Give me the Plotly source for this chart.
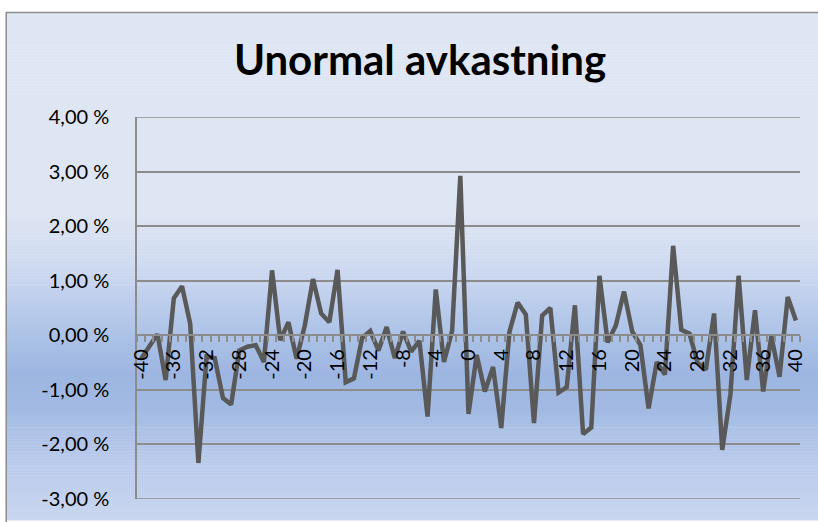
import plotly.graph_objects as go

# ---- data (values in percent) ----
days = list(range(-40, 41))
abnormal_return = [
    -0.43, -0.22, 0.02, -0.82, 0.68, 0.90, 0.21, -2.34, -0.39, -0.42,
    -1.15, -1.27, -0.28, -0.21, -0.18, -0.49, 1.19, -0.09, 0.24, -0.43,
    0.18, 1.03, 0.40, 0.24, 1.20, -0.86, -0.79, -0.05, 0.08, -0.28,
    0.15, -0.42, 0.07, -0.30, -0.10, -1.49, 0.84, -0.49, 0.08, 2.92,
    -1.44, -0.36, -1.03, -0.58, -1.70, 0.06, 0.60, 0.38, -1.61, 0.36,
    0.50, -1.05, -0.95, 0.55, -1.81, -1.69, 1.09, -0.13, 0.18, 0.80,
    0.07, -0.18, -1.34, -0.49, -0.72, 1.64, 0.10, 0.03, -0.51, -0.63,
    0.40, -2.10, -1.08, 1.09, -0.82, 0.46, -1.03, -0.02, -0.76, 0.70,
    0.27,
]
x_tickvals = list(range(-40, 41, 4))
x_ticktext = [str(v) for v in x_tickvals]
y_tickvals = [-3, -2, -1, 0, 1, 2, 3, 4]
y_ticktext = ["-3,00 %", "-2,00 %", "-1,00 %", "0,00 %", "1,00 %", "2,00 %", "3,00 %", "4,00 %"]
y_min, y_max = -3, 4

W, H = 818, 522
L, R, T, B = 137, 17, 117, 21
PW, PH = W - L - R, H - T - B


def px_x(px):
    return (px - L) / PW


def px_y(py):
    return (H - B - py) / PH


def hex2rgb(h):
    h = h.lstrip("#")
    return tuple(int(h[i:i + 2], 16) for i in (0, 2, 4))


stops = [(12, "#DFE6F3"), (215, "#DEE5F3"), (270, "#CDD9F0"), (330, "#AFC4E8"),
         (375, "#9DB6E1"), (410, "#A2BAE3"), (460, "#B8CAEB"), (522, "#C9D6EF")]


def color_at(py):
    for (y0, c0), (y1, c1) in zip(stops[:-1], stops[1:]):
        if y0 <= py <= y1:
            t = (py - y0) / (y1 - y0)
            a, b = hex2rgb(c0), hex2rgb(c1)
            return "rgb(%d,%d,%d)" % tuple(round(a[i] + (b[i] - a[i]) * t) for i in range(3))
    return stops[-1][1]


shapes = []
step = 3
py = 12
while py < H:
    shapes.append(dict(type="rect", xref="paper", yref="paper", layer="below",
                       x0=px_x(6), x1=px_x(W + 5), y0=px_y(py + step + 0.5), y1=px_y(py),
                       fillcolor=color_at(py + step / 2), line=dict(width=0)))
    py += step

# chart area border
shapes.append(dict(type="rect", xref="paper", yref="paper", layer="below",
                   x0=px_x(6), x1=px_x(W + 20), y0=px_y(H + 20), y1=px_y(12),
                   fillcolor="rgba(0,0,0,0)", line=dict(color="#8C8C8C", width=1.5)))

# gridlines at the range ends (plotly drops gridlines at the plot edges)
for yv in (y_min, y_max):
    shapes.append(dict(type="line", xref="paper", yref="y", layer="below",
                       x0=0, x1=1, y0=yv, y1=yv,
                       line=dict(color="#8C8C8C", width=1.5)))

fig = go.Figure()
fig.add_trace(go.Scatter(
    x=days, y=abnormal_return, mode="lines",
    line=dict(color="#595959", width=4.5),
    showlegend=False, hoverinfo="skip",
))

fig.update_layout(
    width=W, height=H,
    margin=dict(l=L, r=R, t=T, b=B),
    paper_bgcolor="white",
    plot_bgcolor="rgba(0,0,0,0)",
    shapes=shapes,
    title=dict(text="<b>Unormal avkastning</b>", x=420 / W, xanchor="center",
               y=1 - 60 / H, yanchor="middle", yref="container",
               font=dict(family="Lato", size=42, color="black")),
    font=dict(family="Lato", color="black"),
)

fig.update_xaxes(
    range=[-40.5, 40.5],
    anchor="free", position=3 / 7, side="bottom",
    tickmode="array", tickvals=x_tickvals, ticktext=x_ticktext,
    tickangle=-90, tickfont=dict(size=20, family="Lato", color="black"),
    ticks="outside", ticklen=5, tickcolor="rgba(0,0,0,0)",
    showline=True, linecolor="#8C8C8C", linewidth=1.5,
    showgrid=False, zeroline=False,
    minor=dict(tickmode="linear", tick0=-40.5, dtick=1, ticks="outside",
               ticklen=6, tickcolor="#8C8C8C", tickwidth=1.5, showgrid=False),
)

fig.update_yaxes(
    range=[y_min, y_max],
    tickmode="array", tickvals=y_tickvals, ticktext=y_ticktext,
    tickfont=dict(size=20, family="Lato", color="black"),
    ticks="outside", ticklen=22, tickcolor="rgba(0,0,0,0)",
    showline=True, linecolor="#8C8C8C", linewidth=1.5,
    showgrid=True, gridcolor="#8C8C8C", gridwidth=1.5,
    zeroline=False,
)

fig.write_html("out.html",
               config={"displayModeBar": False},
               post_script="document.body.style.margin='0';document.body.style.padding='0';")
